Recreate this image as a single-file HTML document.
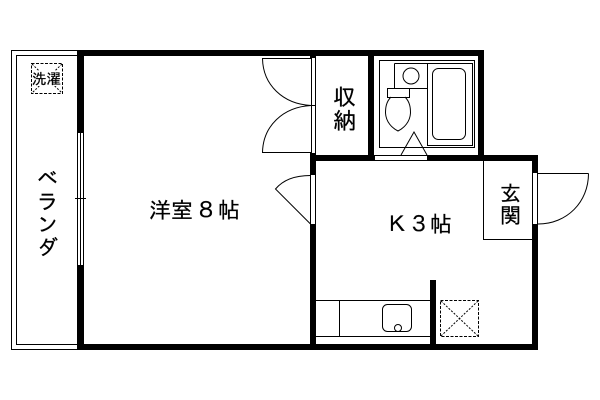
<!DOCTYPE html>
<html lang="ja"><head><meta charset="utf-8"><style>
html,body{margin:0;padding:0;background:#fff;width:600px;height:400px;overflow:hidden}
svg{display:block}
text{font-family:"IPAGothic","Liberation Sans","Noto Sans CJK JP",sans-serif;fill:#000;stroke:#000;stroke-width:.25}
</style></head><body>
<svg width="600" height="400" viewBox="0 0 600 400" xmlns="http://www.w3.org/2000/svg">
<g fill="none" stroke="#000" stroke-width="1">
<g shape-rendering="crispEdges">
<path d="M78 50.5H11.5V349.5H78M78 55.5H16.5V344.5H78"/>
<path d="M77.5 133V265M80.5 133V265M83.5 133V265M75 198.5H86"/>
<path d="M311.5 58V153M315.5 58V153M262 58.5H311M311 105.5H316M262 152.5H311"/>
<path d="M310.5 175V224M315.5 175V224"/>
<path d="M532.5 173V224M537.5 173V224M538 173.5H588.5"/>
<path d="M483.5 160V239.5H532"/>
<path d="M379.5 60.5H474.5V147.5H379.5ZM394.5 63.5H472.5V145.5H427.5V63.5M394.5 63.5V88.5H427.5M387.5 88.5H409.5V97.5H387.5Z"/>
<path d="M316 300.5H430M316 336.5H430M339.5 300V336"/>
</g>
<path d="M262.5 58.5C263 85 283 104 311 105.5M262.5 152.5C263 126 283 107 311 105.5"/>
<path d="M310.5 224L275.5 189C283 180 295 175.5 310.5 175.5"/>
<path d="M588.5 173.5C588.5 202 567 224 538 224"/>
<rect x="432.5" y="68.5" width="33" height="71" rx="6"/>
<circle cx="411" cy="76" r="8"/>
<path d="M391 97C386 102 385.500 108 385.500 113C386 122 392 128 398 131C404 128 410 122 410.500 113C410.500 108 410 102 405 97"/>
<path d="M401 155L414 132L427 155"/>
<rect x="382.500" y="304.500" width="29" height="27" rx="5"/>
<circle cx="398" cy="328" r="3.500"/>
<g stroke-dasharray="3 1.500" shape-rendering="crispEdges">
<rect x="440.500" y="300.500" width="38" height="36"/>
<rect x="31.500" y="63.500" width="31" height="30"/>
</g>
<g stroke-dasharray="2 1.500">
<path d="M441 301L478 336M478 301L441 336"/>
<path d="M32 64L62 93M62 64L32 93"/>
</g>
</g>
<g fill="#000" shape-rendering="crispEdges">
<rect x="77" y="50" width="407" height="6"/>
<rect x="77" y="50" width="7" height="83"/>
<rect x="77" y="265" width="7" height="85"/>
<rect x="77" y="344" width="461" height="6"/>
<rect x="310" y="50" width="6" height="8"/>
<rect x="310" y="153" width="6" height="22"/>
<rect x="310" y="224" width="6" height="126"/>
<rect x="310" y="155" width="65" height="6"/>
<rect x="368" y="50" width="6" height="111"/>
<rect x="427" y="155" width="111" height="6"/>
<rect x="375" y="155" width="52" height="1"/>
<rect x="375" y="160" width="52" height="1"/>
<rect x="478" y="50" width="6" height="111"/>
<rect x="532" y="155" width="6" height="18"/>
<rect x="532" y="224" width="6" height="126"/>
<rect x="430" y="280" width="6" height="70"/>
</g>
<rect x="33" y="71" width="28" height="15" fill="#fff"/>
<text x="32" y="84" font-size="14.500">洗濯</text>
<text x="333" y="105" font-size="23">収</text>
<text x="333" y="129" font-size="23">納</text>
<text x="500" y="201" font-size="21">玄</text>
<text x="500" y="223" font-size="21">関</text>
<text x="149" y="218" font-size="22">洋室</text>
<text x="195" y="218" font-size="22">８</text>
<text x="218" y="218" font-size="22">帖</text>
<text x="386" y="232" font-size="22">Ｋ</text>
<text x="408" y="232" font-size="22">３</text>
<text x="430" y="232" font-size="22">帖</text>
<text x="37" y="186" font-size="21">ベ</text>
<text x="37" y="209" font-size="21">ラ</text>
<text x="37" y="232" font-size="21">ン</text>
<text x="37" y="255" font-size="21">ダ</text>
</svg>
</body></html>
